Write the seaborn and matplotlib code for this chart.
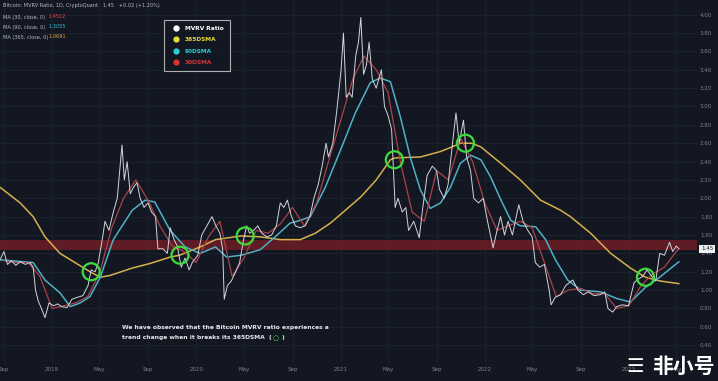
import matplotlib
matplotlib.use("Agg")
import matplotlib.pyplot as plt
from matplotlib.lines import Line2D
import pandas as pd
import seaborn as sns

# MVRV ratio (white)
mvrv_dates = [
    "2018-08-22", "2018-09-01", "2018-09-10", "2018-09-20", "2018-10-01", "2018-10-12", "2018-10-25",
    "2018-11-06", "2018-11-14", "2018-11-20", "2018-11-27", "2018-12-05", "2018-12-14", "2018-12-24",
    "2019-01-05", "2019-01-15", "2019-01-25", "2019-02-08", "2019-02-20", "2019-03-05", "2019-03-20",
    "2019-04-02", "2019-04-10", "2019-04-20", "2019-04-28", "2019-05-08", "2019-05-15", "2019-05-25",
    "2019-06-05", "2019-06-15", "2019-06-27", "2019-07-03", "2019-07-10", "2019-07-18", "2019-07-26",
    "2019-08-04", "2019-08-12", "2019-08-22", "2019-09-01", "2019-09-10", "2019-09-20", "2019-09-26",
    "2019-10-09", "2019-10-20", "2019-10-27", "2019-11-06", "2019-11-14", "2019-11-24", "2019-12-04",
    "2019-12-14", "2019-12-22", "2020-01-05", "2020-01-15", "2020-01-28", "2020-02-10", "2020-02-20",
    "2020-03-01", "2020-03-08", "2020-03-12", "2020-03-20", "2020-03-30", "2020-04-10", "2020-04-20",
    "2020-04-30", "2020-05-08", "2020-05-15", "2020-05-25", "2020-06-05", "2020-06-15", "2020-06-28",
    "2020-07-10", "2020-07-22", "2020-08-01", "2020-08-10", "2020-08-19", "2020-08-28", "2020-09-08",
    "2020-09-20", "2020-10-03", "2020-10-15", "2020-10-25", "2020-11-05", "2020-11-15", "2020-11-25",
    "2020-12-01", "2020-12-12", "2020-12-22", "2021-01-02", "2021-01-08", "2021-01-15", "2021-01-23",
    "2021-01-30", "2021-02-08", "2021-02-15", "2021-02-21", "2021-02-28", "2021-03-07", "2021-03-14",
    "2021-03-22", "2021-04-01", "2021-04-14", "2021-04-22", "2021-05-01", "2021-05-10", "2021-05-19",
    "2021-05-26", "2021-06-06", "2021-06-15", "2021-06-22", "2021-07-05", "2021-07-19", "2021-07-28",
    "2021-08-08", "2021-08-21", "2021-09-01", "2021-09-08", "2021-09-20", "2021-09-30", "2021-10-10",
    "2021-10-20", "2021-10-28", "2021-11-08", "2021-11-16", "2021-11-26", "2021-12-04", "2021-12-16",
    "2021-12-28", "2022-01-08", "2022-01-22", "2022-02-01", "2022-02-10", "2022-02-20", "2022-03-01",
    "2022-03-12", "2022-03-28", "2022-04-08", "2022-04-20", "2022-05-01", "2022-05-09", "2022-05-20",
    "2022-06-01", "2022-06-13", "2022-06-18", "2022-06-28", "2022-07-12", "2022-07-25", "2022-08-12",
    "2022-08-25", "2022-09-08", "2022-09-20", "2022-10-05", "2022-10-20", "2022-11-01", "2022-11-09",
    "2022-11-21", "2022-12-01", "2022-12-15", "2022-12-31", "2023-01-14", "2023-01-25", "2023-02-05",
    "2023-02-16", "2023-02-28", "2023-03-10", "2023-03-20", "2023-04-01", "2023-04-14", "2023-04-22",
    "2023-05-01", "2023-05-08",
]
mvrv_values = [
    1.33, 1.42, 1.28, 1.32, 1.27, 1.31, 1.28,
    1.30, 1.25, 1.00, 0.88, 0.80, 0.70, 0.86,
    0.83, 0.85, 0.82, 0.81, 0.90, 0.92, 0.94,
    1.05, 1.22, 1.20, 1.30, 1.55, 1.75, 1.65,
    1.85, 2.00, 2.58, 2.20, 2.40, 2.05, 2.12,
    2.17, 2.00, 1.90, 1.95, 1.85, 1.80, 1.45,
    1.45, 1.40, 1.68, 1.55, 1.48, 1.25, 1.35,
    1.22, 1.30, 1.38, 1.60, 1.70, 1.80, 1.70,
    1.62, 1.45, 0.90, 1.05, 1.10, 1.20, 1.30,
    1.55, 1.70, 1.62, 1.65, 1.70, 1.62, 1.58,
    1.60, 1.70, 1.95, 1.90, 1.98, 1.82, 1.70,
    1.68, 1.70, 1.80, 2.00, 2.15, 2.35, 2.60,
    2.45, 2.60, 2.95, 3.40, 3.80, 3.10, 3.15,
    3.10, 3.55, 3.70, 3.97, 3.35, 3.45, 3.70,
    3.30, 3.20, 3.40, 3.00, 2.90, 2.75, 1.90,
    2.00, 1.85, 1.90, 1.65, 1.75, 1.57, 1.90,
    2.25, 2.35, 2.30, 2.10, 2.00, 2.15, 2.55,
    2.93, 2.60, 2.85, 2.45, 2.30, 2.00, 1.95,
    2.00, 1.75, 1.46, 1.65, 1.80, 1.60, 1.75,
    1.60, 1.93, 1.75, 1.65, 1.58, 1.30, 1.25,
    1.28, 1.00, 0.84, 0.92, 0.95, 1.05, 1.11,
    1.00, 0.95, 0.98, 0.94, 0.95, 0.98, 0.80,
    0.76, 0.82, 0.84, 0.83, 1.08, 1.12, 1.15,
    1.22, 1.15, 1.10, 1.40, 1.38, 1.52, 1.42,
    1.48, 1.45,
]

# 30-day SMA (red)
sma30_dates = [
    "2018-09-01", "2018-10-01", "2018-11-01", "2018-12-01", "2019-01-01", "2019-02-01", "2019-03-01",
    "2019-04-01", "2019-05-01", "2019-06-01", "2019-07-01", "2019-08-01", "2019-09-01", "2019-10-01",
    "2019-11-01", "2019-12-01", "2020-01-01", "2020-02-01", "2020-03-01", "2020-04-01", "2020-05-01",
    "2020-06-01", "2020-07-01", "2020-08-01", "2020-09-01", "2020-10-01", "2020-11-01", "2020-12-01",
    "2021-01-01", "2021-02-01", "2021-03-01", "2021-04-01", "2021-05-01", "2021-06-01", "2021-07-01",
    "2021-08-01", "2021-09-01", "2021-10-01", "2021-11-01", "2021-12-01", "2022-01-01", "2022-02-01",
    "2022-03-01", "2022-04-01", "2022-05-01", "2022-06-01", "2022-07-01", "2022-08-01", "2022-09-01",
    "2022-10-01", "2022-11-01", "2022-12-01", "2023-01-01", "2023-02-01", "2023-03-01", "2023-04-01",
    "2023-05-01", "2023-05-08",
]
sma30_values = [
    1.32, 1.30, 1.30, 1.15, 0.80, 0.83, 0.86,
    0.93, 1.18, 1.68, 2.00, 2.20, 1.98, 1.70,
    1.48, 1.42, 1.30, 1.58, 1.75, 1.15, 1.35,
    1.65, 1.62, 1.72, 1.90, 1.70, 1.95, 2.40,
    2.85, 3.30, 3.55, 3.40, 3.15, 2.40, 1.85,
    1.75, 2.30, 2.20, 2.65, 2.40, 1.95, 1.65,
    1.70, 1.75, 1.68, 1.30, 0.93, 1.00, 1.02,
    0.96, 0.96, 0.80, 0.83, 1.05, 1.17, 1.25,
    1.42, 1.45,
]

# 90-day SMA (cyan)
sma90_dates = [
    "2018-08-22", "2018-11-14", "2018-12-14", "2019-01-21", "2019-02-16", "2019-03-13", "2019-04-07",
    "2019-05-03", "2019-06-05", "2019-07-23", "2019-08-25", "2019-09-18", "2019-10-27", "2019-12-04",
    "2020-01-11", "2020-02-19", "2020-03-18", "2020-04-24", "2020-06-11", "2020-07-19", "2020-08-26",
    "2020-09-21", "2020-10-16", "2020-11-23", "2021-01-01", "2021-02-07", "2021-03-17", "2021-04-11",
    "2021-05-07", "2021-06-01", "2021-06-26", "2021-07-22", "2021-08-16", "2021-09-11", "2021-10-06",
    "2021-10-31", "2021-11-26", "2021-12-22", "2022-01-16", "2022-02-11", "2022-03-08", "2022-04-01",
    "2022-05-10", "2022-06-04", "2022-06-29", "2022-07-30", "2022-09-01", "2022-10-22", "2022-11-30",
    "2023-01-05", "2023-02-12", "2023-03-20", "2023-05-08",
]
sma90_values = [
    1.33, 1.30, 1.11, 0.97, 0.82, 0.86, 0.93,
    1.14, 1.55, 1.87, 1.98, 1.96, 1.65, 1.47,
    1.40, 1.47, 1.36, 1.38, 1.44, 1.58, 1.73,
    1.76, 1.80, 2.12, 2.53, 2.93, 3.26, 3.31,
    3.27, 2.89, 2.45, 2.09, 1.89, 1.95, 2.12,
    2.38, 2.47, 2.42, 2.23, 1.98, 1.76, 1.70,
    1.69, 1.55, 1.33, 1.11, 1.00, 0.98, 0.91,
    0.87, 1.03, 1.14, 1.31,
]

# 365-day SMA (yellow)
sma365_dates = [
    "2018-08-22", "2018-10-12", "2018-11-14", "2018-12-14", "2019-01-21", "2019-02-28", "2019-04-07",
    "2019-05-03", "2019-05-28", "2019-07-23", "2019-09-06", "2019-10-27", "2019-11-20", "2020-01-11",
    "2020-02-19", "2020-04-24", "2020-06-11", "2020-08-01", "2020-09-21", "2020-10-29", "2020-12-06",
    "2021-01-13", "2021-02-22", "2021-04-01", "2021-05-07", "2021-05-19", "2021-07-22", "2021-09-11",
    "2021-11-02", "2021-11-28", "2021-12-22", "2022-02-11", "2022-04-01", "2022-05-22", "2022-07-12",
    "2022-08-06", "2022-09-26", "2022-11-16", "2023-01-05", "2023-02-12", "2023-03-20", "2023-05-08",
]
sma365_values = [
    2.12, 1.95, 1.80, 1.58, 1.40, 1.30, 1.20,
    1.14, 1.16, 1.24, 1.29, 1.36, 1.38, 1.47,
    1.55, 1.59, 1.58, 1.55, 1.55, 1.62, 1.73,
    1.87, 2.02, 2.20, 2.42, 2.44, 2.45, 2.51,
    2.60, 2.60, 2.56, 2.38, 2.20, 1.98, 1.87,
    1.80, 1.62, 1.40, 1.24, 1.14, 1.10, 1.07,
]

# green circles where MVRV crosses the 365DSMA
cross_dates = ["2019-04-10", "2019-11-21", "2020-05-04", "2021-05-17", "2021-11-13", "2023-02-12"]
cross_values = [1.20, 1.38, 1.59, 2.42, 2.60, 1.14]

y_ticks = [0.40, 0.60, 0.80, 1.00, 1.20, 1.40, 1.60, 1.80, 2.00, 2.20, 2.40, 2.60,
           2.80, 3.00, 3.20, 3.40, 3.60, 3.80, 4.00]
x_tick_dates = ["2018-09-01", "2019-01-01", "2019-05-01", "2019-09-01", "2020-01-01", "2020-05-01",
                "2020-09-01", "2021-01-01", "2021-05-01", "2021-09-01", "2022-01-01", "2022-05-01",
                "2022-09-01", "2023-01-01", "2023-05-01"]
x_tick_labels = ["Sep", "2019", "May", "Sep", "2020", "May", "Sep", "2021", "May", "Sep",
                 "2022", "May", "Sep", "2023", "May"]

bg = "#131722"
sns.set_theme(style="dark", rc={"axes.facecolor": bg, "figure.facecolor": bg})
plt.rcParams["font.family"] = ["DejaVu Sans", "Noto Sans CJK SC"]

fig = plt.figure(figsize=(7.18, 3.81), dpi=100)
ax = fig.add_axes([0, 0.047, 0.971, 0.953])
ax.set_facecolor(bg)

mvrv = pd.DataFrame({"date": pd.to_datetime(mvrv_dates), "v": mvrv_values})
s30 = pd.DataFrame({"date": pd.to_datetime(sma30_dates), "v": sma30_values})
s90 = pd.DataFrame({"date": pd.to_datetime(sma90_dates), "v": sma90_values})
s365 = pd.DataFrame({"date": pd.to_datetime(sma365_dates), "v": sma365_values})

# resistance band
ax.axhspan(1.44, 1.55, color="#6e1e26", alpha=0.85, zorder=1, lw=0)

sns.lineplot(data=s365, x="date", y="v", color="#d6b04c", lw=1.1, ax=ax, zorder=3)
sns.lineplot(data=s90, x="date", y="v", color="#4fb0c6", lw=1.1, ax=ax, zorder=3)
sns.lineplot(data=s30, x="date", y="v", color="#a8444a", lw=0.9, ax=ax, zorder=4)
sns.lineplot(data=mvrv, x="date", y="v", color="#d4d4dc", lw=0.7, ax=ax, zorder=5)

ax.scatter(pd.to_datetime(cross_dates), cross_values, s=150, facecolors="none",
           edgecolors="#3ddc3d", linewidths=1.6, zorder=6)

ax.set_xlim(pd.Timestamp("2018-08-22"), pd.Timestamp("2023-06-23"))
ax.set_ylim(0.205, 4.16)
ax.set_xlabel("")
ax.set_ylabel("")

ax.yaxis.tick_right()
ax.set_yticks(y_ticks)
ax.set_yticklabels([f"{t:.2f}" for t in y_ticks])
ax.set_xticks(pd.to_datetime(x_tick_dates))
ax.set_xticklabels(x_tick_labels)
ax.tick_params(axis="both", colors="#7d828e", labelsize=4, length=0, pad=3)
ax.tick_params(axis="y", pad=2)
ax.grid(True, color="#1d2230", lw=0.6)
for s in ax.spines.values():
    s.set_visible(False)

# last value tag
fig.text(0.985, 1 - 249 / 381, "1.45", fontsize=4, color="#131722", ha="center", va="center",
         bbox=dict(boxstyle="square,pad=0.3", fc="#f0f0f0", ec="none"))

# header
fig.text(0.004, 1 - 6 / 381, "Bitcoin: MVRV Ratio, 1D, CryptoQuant   1.45   +0.02 (+1.20%)",
         fontsize=3.6, color="#b8bcc6", va="center")
rows = [("MA (30, close, 0)", "1.4512", "#e0504a"),
        ("MA (90, close, 0)", "1.3055", "#3fb8d6"),
        ("MA (365, close, 0)", "1.0691", "#e8a838")]
for i, (lab, val, col) in enumerate(rows):
    yy = 1 - (17 + i * 10) / 381
    fig.text(0.004, yy, lab, fontsize=3.6, color="#b8bcc6", va="center")
    fig.text(0.068, yy, val, fontsize=3.6, color=col, va="center")

# legend
handles = [Line2D([], [], marker="o", ls="none", color=c, markersize=3.5)
           for c in ["#ffffff", "#e5dc3a", "#2ccbd8", "#e0302c"]]
leg = ax.legend(handles, ["MVRV Ratio", "365DSMA", "90DSMA", "30DSMA"],
                loc="upper left", bbox_to_anchor=(161 / 697, 1 - 17 / 363),
                fontsize=4.2, frameon=True, facecolor=bg, edgecolor="#d8d8d8",
                labelcolor=["#ffffff", "#e5dc3a", "#2ccbd8", "#e0302c"],
                handletextpad=0.6, borderpad=1.0, labelspacing=1.1, fancybox=False)
leg.get_frame().set_linewidth(0.8)
for t in leg.get_texts():
    t.set_fontweight("bold")

# note
fig.text(122 / 718, 1 - 327 / 381, "We have observed that the Bitcoin MVRV ratio experiences a",
         fontsize=4.3, color="#e8e8ec", fontweight="bold", va="center")
fig.text(122 / 718, 1 - 338 / 381, "trend change when it breaks its 365DSMA  (",
         fontsize=4.3, color="#e8e8ec", fontweight="bold", va="center")
fig.text(276 / 718, 1 - 338 / 381, "○", fontsize=5, color="#3ddc3d", fontweight="bold",
         va="center", ha="center")
fig.text(282 / 718, 1 - 338 / 381, ")", fontsize=4.3, color="#e8e8ec", fontweight="bold",
         va="center")

# watermark
fig.text(0.995, 0.037, "非小号", fontsize=15, color="#ffffff", fontweight="bold",
         ha="right", va="center", family=["Noto Sans CJK SC", "DejaVu Sans"])
fig.text(0.885, 0.037, "☰", fontsize=14, color="#ffffff", ha="center", va="center")

fig.savefig("out.png", dpi=100, facecolor=bg)
